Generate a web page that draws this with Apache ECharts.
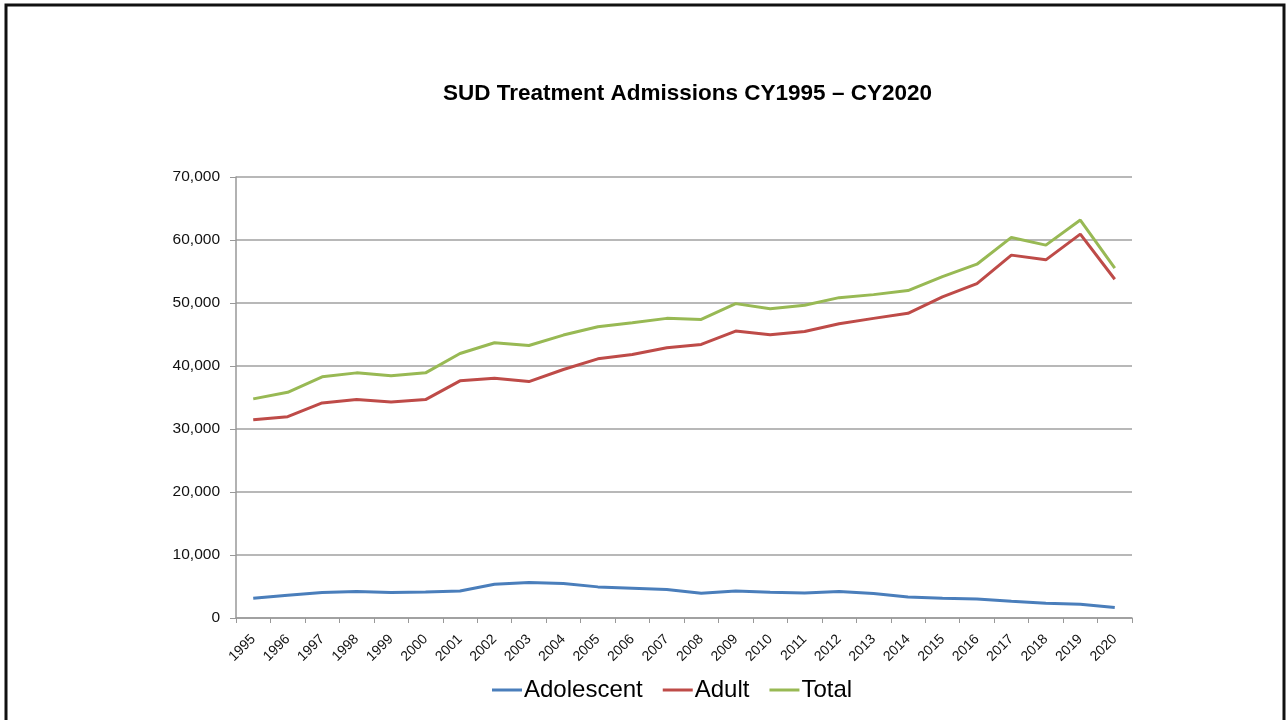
<!DOCTYPE html>
<html>
<head>
<meta charset="utf-8">
<script src="https://cdn.jsdelivr.net/npm/echarts@6/dist/echarts.min.js"></script>
<style>
html, body { margin: 0; padding: 0; background: #fff; }
</style>
</head>
<body>
<div id="ch" style="width: 1286px; height: 720px;"></div>

<script>
var years = ['1995', '1996', '1997', '1998', '1999', '2000', '2001', '2002', '2003', '2004',
    '2005', '2006', '2007', '2008', '2009', '2010', '2011', '2012', '2013', '2014',
    '2015', '2016', '2017', '2018', '2019', '2020']
var adolescent = [3140, 3610, 4040, 4200, 4040, 4140, 4300, 5370, 5630, 5470,
    4940, 4730, 4520, 3930, 4300, 4090, 3980, 4200, 3880, 3350,
    3140, 3030, 2660, 2340, 2180, 1650]
var adult = [31480, 31960, 34140, 34670, 34300, 34670, 37640, 38060, 37530, 39440,
    41140, 41830, 42900, 43420, 45540, 44970, 45490, 46720, 47560, 48360,
    50960, 53090, 57600, 56850, 60940, 53770]
var total = [34780, 35830, 38280, 38910, 38440, 38910, 41990, 43690, 43260, 44910,
    46240, 46870, 47560, 47400, 49900, 49100, 49630, 50850, 51330, 51970,
    54200, 56160, 60410, 59190, 63170, 55530]
var yTicks = [0, 10000, 20000, 30000, 40000, 50000, 60000, 70000]

var chartInst = echarts.init(document.getElementById('ch'))

function mkLine(name, data, color) {
    return {
        name: name,
        type: 'line',
        data: data,
        symbol: 'none',
        lineStyle: { color: color, width: 3 },
        itemStyle: { color: color }
    }
}

var option = {
    animation: false,
    backgroundColor: '#fff',
    textStyle: { fontFamily: 'Liberation Sans' },
    title: {
        text: 'SUD Treatment Admissions CY1995 \u2013 CY2020',
        left: 438,
        top: 77,
        textStyle: { fontSize: 22.5, fontWeight: 'bold', color: '#000', fontFamily: 'Liberation Sans' }
    },
    legend: {
        bottom: 13,
        left: 487,
        itemWidth: 30,
        itemHeight: 3,
        itemGap: 20,
        icon: 'rect',
        textStyle: { fontSize: 24, color: '#000', padding: [0, 0, 0, -3] },
        data: ['Adolescent', 'Adult', 'Total']
    },
    grid: { left: 236, right: 154, top: 177, bottom: 102, containLabel: false },
    xAxis: {
        type: 'category',
        data: years,
        boundaryGap: true,
        axisLine: { lineStyle: { color: '#999', width: 1.5 } },
        axisTick: { show: true, length: 5, lineStyle: { color: '#999' } },
        axisLabel: { rotate: 45, fontSize: 14, color: '#111', margin: 19, interval: 0 }
    },
    yAxis: {
        type: 'value',
        min: yTicks[0],
        max: yTicks[yTicks.length - 1],
        interval: 10000,
        axisLine: { show: true, lineStyle: { color: '#999', width: 1.5 } },
        axisTick: { show: true, length: 6, lineStyle: { color: '#999' } },
        splitLine: { lineStyle: { color: '#a0a0a0', width: 1.5 } },
        axisLabel: {
            fontSize: 15.5,
            color: '#111',
            margin: 16,
            formatter: function(v) { return v.toLocaleString('en-US') }
        }
    },
    graphic: [{
        type: 'rect',
        shape: { x: 6, y: 5, width: 1278, height: 740 },
        style: { fill: 'none', stroke: '#111', lineWidth: 3 },
        silent: true
    }],
    series: [
        mkLine('Adolescent', adolescent, '#4a7ebb'),
        mkLine('Adult', adult, '#be4b48'),
        mkLine('Total', total, '#98b954')
    ]
}
chartInst.setOption(option)
</script>
</body>
</html>
